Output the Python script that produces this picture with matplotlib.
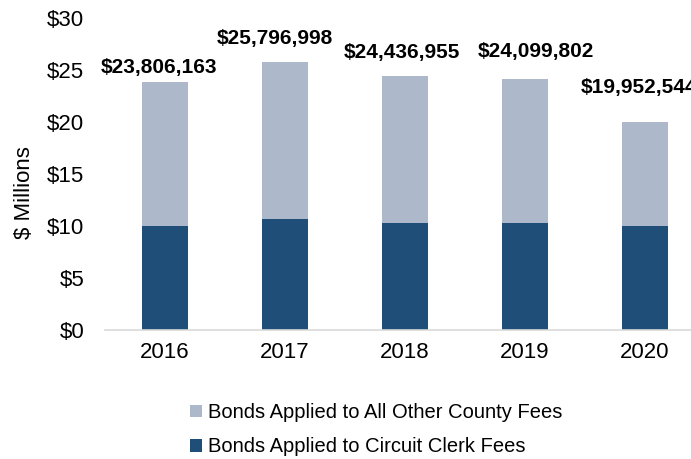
import matplotlib
matplotlib.use("Agg")
import matplotlib.pyplot as plt
from matplotlib.ticker import FuncFormatter

years = ["2016", "2017", "2018", "2019", "2020"]
totals = [23806163, 25796998, 24436955, 24099802, 19952544]
circuit_clerk = [10.0, 10.7, 10.3, 10.3, 10.0]  # $ millions
other_county = [t / 1e6 - c for t, c in zip(totals, circuit_clerk)]
label_dx = [-4, -7, -2, 8, -4]     # label offsets (points)
label_dy = [11, 17, 17, 20, 25]

plt.rcParams['font.family'] = ['Liberation Sans', 'DejaVu Sans']

dark = "#1F4E79"
light = "#ADB9CA"

fig = plt.figure(figsize=(6.91, 4.59), dpi=100)
ax = fig.add_axes([105/691, 1 - 330/459, (691 - 105)/691, (330 - 18)/459])

x = list(range(len(years)))
w = 0.38
ax.bar(x, circuit_clerk, width=w, color=dark, label="Bonds Applied to Circuit Clerk Fees")
ax.bar(x, other_county, width=w, bottom=circuit_clerk, color=light,
       label="Bonds Applied to All Other County Fees")

for xi, t, dx, dy in zip(x, totals, label_dx, label_dy):
    ax.annotate(f"${t:,.0f}", (xi, t / 1e6), xytext=(dx, dy), textcoords="offset points",
                ha="center", va="center", fontsize=15, fontweight="bold", color="#000000",
                annotation_clip=False, clip_on=False)

ax.set_ylim(0, 30)
ax.set_xlim(-0.5, -0.5 + 586/120)
ax.set_yticks(range(0, 31, 5))
ax.yaxis.set_major_formatter(FuncFormatter(lambda v, p: f"${v:.0f}"))
ax.set_xticks(x)
ax.set_xticklabels(years)
ax.tick_params(axis="both", length=0, labelsize=16, colors="#000000")
ax.tick_params(axis="x", pad=8.5)
ax.tick_params(axis="y", pad=15)
for s in ["top", "right", "left"]:
    ax.spines[s].set_visible(False)
ax.spines["bottom"].set_color("#D9D9D9")
ax.spines["bottom"].set_linewidth(1.2)
fig.text(25/691, 1 - 193/459, "$ Millions", rotation=90, fontsize=16,
         ha="center", va="center")

handles, labels = ax.get_legend_handles_labels()
fig.legend(handles[::-1], labels[::-1], loc="upper left", bbox_to_anchor=(172/691, 1 - 385/459),
           ncol=1, frameon=False, fontsize=14.5, handlelength=0.6, handleheight=0.6,
           handletextpad=0.3, labelspacing=0.75)

fig.savefig("out.png", dpi=100)
